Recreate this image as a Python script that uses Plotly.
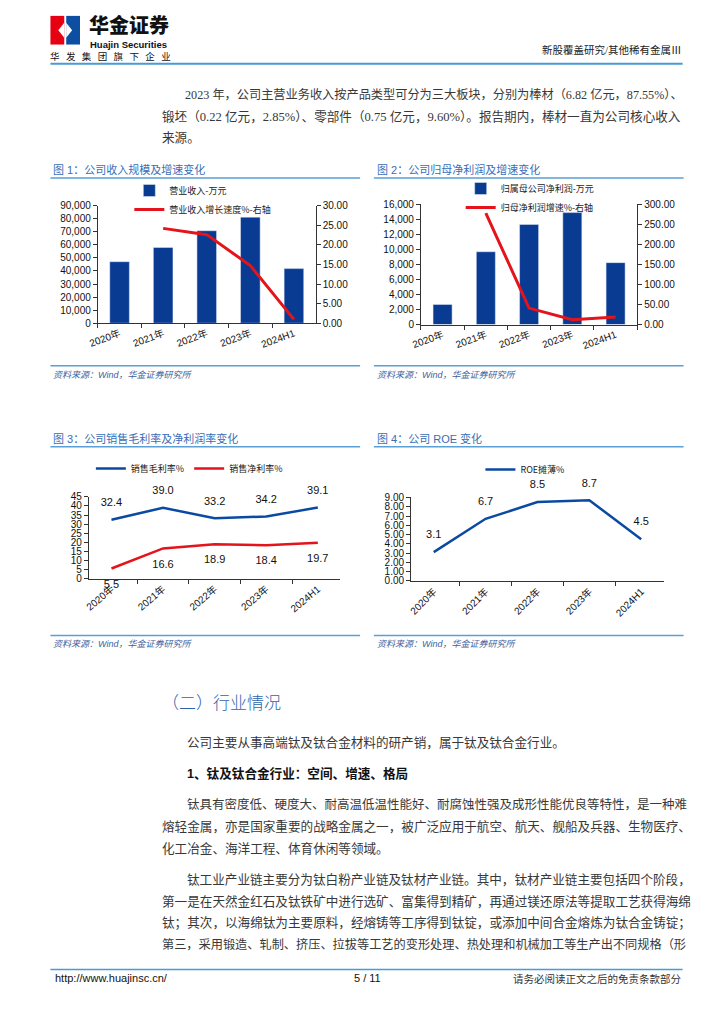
import plotly.graph_objects as go

W, H = 724, 1024
def X(p): return p / W
def Y(p): return 1 - p / H

# ---------------- data ----------------
categories = ["2020年", "2021年", "2022年", "2023年", "2024H1"]
revenue = [47100, 58000, 70800, 81200, 41800]            # 营业收入-万元
revenue_growth = [None, 24.2, 22.6, 14.7, 1.0]            # 营业收入增长速度%
net_profit = [2670, 9690, 13330, 14900, 8240]             # 归属母公司净利润-万元
profit_growth = [None, 278.0, 41.0, 12.0, 19.0]           # 归母净利润增速%
gross_margin = [32.4, 39.0, 33.2, 34.2, 39.1]             # 销售毛利率%
net_margin = [5.5, 16.6, 18.9, 18.4, 19.7]                # 销售净利率%
roe = [3.1, 6.7, 8.5, 8.7, 4.5]                           # ROE摊薄%

BLUE = "#0a3b93"
RED = "#e3141b"
LINEBLUE = "#0b4aa2"
RULE = "#5a9fd6"
TITLE_C = "#3a6db5"
SRC_C = "#3d5f9e"
TXT = "#383838"
CJK = "Noto Sans CJK SC"
BODY = "Liberation Serif, Noto Sans CJK SC"
LAT = "Liberation Sans, Arial, Noto Sans CJK SC"

fig = go.Figure()

# chart 1
fig.add_trace(go.Bar(x=categories, y=revenue, name="营业收入-万元", marker_color=BLUE,
                     width=0.45, xaxis="x", yaxis="y", legend="legend"))
fig.add_trace(go.Scatter(x=categories, y=revenue_growth, name="营业收入增长速度%-右轴",
                         mode="lines", line=dict(color=RED, width=3),
                         xaxis="x", yaxis="y2", legend="legend"))
# chart 2
fig.add_trace(go.Bar(x=categories, y=net_profit, name="归属母公司净利润-万元", marker_color=BLUE,
                     width=0.44, xaxis="x2", yaxis="y3", legend="legend2"))
fig.add_trace(go.Scatter(x=categories, y=profit_growth, name="归母净利润增速%-右轴",
                         mode="lines", line=dict(color=RED, width=3),
                         xaxis="x2", yaxis="y4", legend="legend2"))
# chart 3
fig.add_trace(go.Scatter(x=categories, y=gross_margin, name="销售毛利率%",
                         mode="lines+markers+text", line=dict(color=LINEBLUE, width=2.5),
                         marker=dict(size=16, color="rgba(0,0,0,0)"),
                         texttemplate="%{y:.1f}", textposition="top center",
                         textfont=dict(family=LAT, size=11, color="#111"), cliponaxis=False,
                         xaxis="x3", yaxis="y5", legend="legend3"))
fig.add_trace(go.Scatter(x=categories, y=net_margin, name="销售净利率%",
                         mode="lines+markers+text", line=dict(color=RED, width=2.5),
                         marker=dict(size=16, color="rgba(0,0,0,0)"),
                         texttemplate="%{y:.1f}", textposition="bottom center",
                         textfont=dict(family=LAT, size=11, color="#111"), cliponaxis=False,
                         xaxis="x3", yaxis="y5", legend="legend3"))
# chart 4
fig.add_trace(go.Scatter(x=categories, y=roe, name="ROE摊薄%",
                         mode="lines+markers+text", line=dict(color=LINEBLUE, width=2.5),
                         marker=dict(size=16, color="rgba(0,0,0,0)"),
                         texttemplate="%{y:.1f}", textposition="top center",
                         textfont=dict(family=LAT, size=11, color="#111"), cliponaxis=False,
                         xaxis="x4", yaxis="y6", legend="legend4"))

tickfont = dict(family=LAT, size=10, color="#111")
axbase = dict(showline=True, linecolor="#333", linewidth=1, ticks="outside", ticklen=4,
              tickcolor="#333", showgrid=False, zeroline=False, tickfont=tickfont, fixedrange=True)
xbase = dict(axbase, type="category", tickson="boundaries")

fig.update_layout(
    width=W, height=H, margin=dict(l=0, r=0, t=0, b=0),
    paper_bgcolor="white", plot_bgcolor="rgba(0,0,0,0)",
    bargap=0.55,
    xaxis=dict(xbase, domain=[X(89), X(310)], anchor="y", tickangle=-20),
    yaxis=dict(axbase, domain=[Y(321), Y(202)], anchor="x", range=[0, 90000], dtick=10000, tickformat=",d"),
    yaxis2=dict(axbase, overlaying="y", side="right", anchor="x", range=[0, 30], dtick=5, tickformat=".2f"),
    xaxis2=dict(xbase, domain=[X(416.7), X(636)], anchor="y3", tickangle=-20),
    yaxis3=dict(axbase, domain=[Y(322.3), Y(200.7)], anchor="x2", range=[0, 16000], dtick=2000, tickformat=",d"),
    yaxis4=dict(axbase, overlaying="y3", side="right", anchor="x2", range=[0, 300], dtick=50, tickformat=".2f"),
    xaxis3=dict(xbase, domain=[X(80), X(335)], anchor="y5", tickangle=-40),
    yaxis5=dict(axbase, domain=[Y(579.3), Y(496.7)], anchor="x3", range=[0, 45], dtick=5),
    xaxis4=dict(xbase, domain=[X(406.7), X(663)], anchor="y6", tickangle=-45),
    yaxis6=dict(axbase, domain=[Y(581.7), Y(497.3)], anchor="x4", range=[0, 9], dtick=1, tickformat=".2f"),
    showlegend=True,
)
legfont = dict(family=CJK, size=9, color="#222")
legbase = dict(font=legfont, bgcolor="rgba(0,0,0,0)", itemwidth=30, traceorder="normal")
fig.update_layout(
    legend=dict(legbase, x=X(121), y=Y(172), xanchor="left", yanchor="top", orientation="v"),
    legend2=dict(legbase, x=X(457), y=Y(170), xanchor="left", yanchor="top", orientation="v"),
    legend3=dict(legbase, x=X(82), y=Y(468), xanchor="left", yanchor="middle", orientation="h"),
    legend4=dict(legbase, x=X(477), y=Y(469), xanchor="left", yanchor="middle", orientation="h"),
)

ann = []
shapes = []
def txt(x, y, s, size=12.6, color=TXT, family=BODY, anchor="left", weight=None, italic=False):
    f = dict(family=family, size=size, color=color)
    if weight: f["weight"] = weight
    if italic: f["style"] = "italic"
    ann.append(dict(x=X(x), y=Y(y), xref="paper", yref="paper", text=s, showarrow=False,
                    xanchor=anchor, yanchor="middle", font=f))
def hline(x0, x1, y, color=RULE, w=1.5):
    shapes.append(dict(type="line", xref="paper", yref="paper", x0=X(x0), x1=X(x1), y0=Y(y), y1=Y(y),
                       line=dict(color=color, width=w)))

# header / logo
shapes.append(dict(type="rect", xref="paper", yref="paper", x0=X(41), x1=X(55), y0=Y(39), y1=Y(10),
                   fillcolor="#e60012", line=dict(width=0)))
shapes.append(dict(type="rect", xref="paper", yref="paper", x0=X(57), x1=X(71), y0=Y(39), y1=Y(10),
                   fillcolor="#0b4ea2", line=dict(width=0)))
shapes.append(dict(type="path", xref="paper", yref="paper",
                   path=f"M {X(57)} {Y(17)} L {X(63)} {Y(24.5)} L {X(57)} {Y(32)} Z",
                   fillcolor="white", line=dict(width=0)))
shapes.append(dict(type="path", xref="paper", yref="paper",
                   path=f"M {X(55)} {Y(17)} L {X(49)} {Y(24.5)} L {X(55)} {Y(32)} Z",
                   fillcolor="white", line=dict(width=0)))
txt(78, 18.5, "华金证券", size=20, color="#111", family=CJK, weight=900)
txt(79, 38.5, "<b>Huajin Securities</b>", size=9.5, color="#111", family="Liberation Sans, Arial")
txt(39, 51, "华&nbsp;&nbsp;&nbsp;发&nbsp;&nbsp;&nbsp;集&nbsp;&nbsp;&nbsp;团&nbsp;&nbsp;&nbsp;旗&nbsp;&nbsp;&nbsp;下&nbsp;&nbsp;&nbsp;企&nbsp;&nbsp;&nbsp;业",
    size=9.5, color="#111", family=CJK)
txt(682, 45, "新股覆盖研究/其他稀有金属Ⅲ", size=10.5, color="#222", anchor="right")
hline(41, 682, 58.5, color="#4a9ad4", w=2)

# paragraph 1
txt(175, 90, "2023 年，公司主营业务收入按产品类型可分为三大板块，分别为棒材（6.82 亿元，87.55%）、", size=12.2)
txt(152, 112, "锻坯（0.22 亿元，2.85%）、零部件（0.75 亿元，9.60%）。报告期内，棒材一直为公司核心收入")
txt(152, 134, "来源。")

# chart frames
txt(42, 165, "图 1：公司收入规模及增速变化", size=11, color=TITLE_C, family=LAT)
hline(41, 355, 174)
hline(41, 355, 364)
txt(42, 373, "资料来源：Wind，华金证券研究所", size=9, color=SRC_C, italic=True, family=LAT)

txt(370, 165, "图 2：公司归母净利润及增速变化", size=11, color=TITLE_C, family=LAT)
hline(369, 683, 174)
hline(369, 683, 364)
txt(370, 373, "资料来源：Wind，华金证券研究所", size=9, color=SRC_C, italic=True, family=LAT)

txt(42, 438, "图 3：公司销售毛利率及净利润率变化", size=11, color=TITLE_C, family=LAT)
hline(41, 355, 446)
hline(41, 355, 637)
txt(42, 646, "资料来源：Wind，华金证券研究所", size=9, color=SRC_C, italic=True, family=LAT)

txt(370, 438, "图 4：公司 ROE 变化", size=11, color=TITLE_C, family=LAT)
hline(369, 683, 446)
hline(369, 683, 637)
txt(370, 646, "资料来源：Wind，华金证券研究所", size=9, color=SRC_C, italic=True, family=LAT)

# section 2
txt(152, 704, "（二）行业情况", size=17, color="#2f63ad", weight=300, family=CJK)
txt(177, 745, "公司主要从事高端钛及钛合金材料的研产销，属于钛及钛合金行业。")
txt(177, 777, "<b>1、钛及钛合金行业：空间、增速、格局</b>", color="#111", family=LAT)
txt(177, 808, "钛具有密度低、硬度大、耐高温低温性能好、耐腐蚀性强及成形性能优良等特性，是一种难", size=12.5)
txt(152, 830, "熔轻金属，亦是国家重要的战略金属之一，被广泛应用于航空、航天、舰船及兵器、生物医疗、")
txt(152, 852, "化工冶金、海洋工程、体育休闲等领域。")
txt(177, 884, "钛工业产业链主要分为钛白粉产业链及钛材产业链。其中，钛材产业链主要包括四个阶段，")
txt(152, 906, "第一是在天然金红石及钛铁矿中进行选矿、富集得到精矿，再通过镁还原法等提取工艺获得海绵")
txt(152, 928, "钛；其次，以海绵钛为主要原料，经熔铸等工序得到钛锭，或添加中间合金熔炼为钛合金铸锭；")
txt(152, 950, "第三，采用锻造、轧制、挤压、拉拔等工艺的变形处理、热处理和机械加工等生产出不同规格（形", size=12.2)

# footer
hline(41, 682, 975, color="#4a9ad4", w=1.5)
txt(44, 984, "http://www.huajinsc.cn/", size=11, color="#111", family="Liberation Sans, Arial")
txt(362, 984, "5 / 11", size=11, color="#111", family="Liberation Sans, Arial", anchor="center")
txt(682, 984, "请务必阅读正文之后的免责条款部分", size=10.5, color="#333", anchor="right", family=CJK)

fig.update_layout(annotations=ann, shapes=shapes)

fig.write_html("out.html", config={"displayModeBar": False},
               post_script="document.body.style.margin='0';document.body.style.overflow='hidden';")
